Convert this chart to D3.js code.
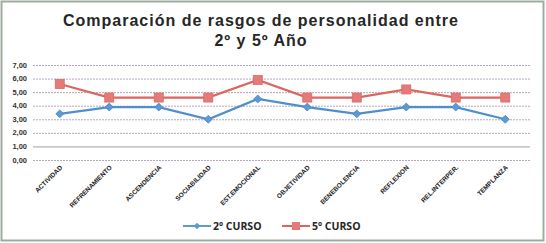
<!DOCTYPE html>
<html>
<head>
<meta charset="utf-8">
<script src="https://cdn.jsdelivr.net/npm/d3@7"></script>
<style>
  body { margin: 0; background: #fff; }
  svg { display: block; }
</style>
</head>
<body>
<svg id="chart"></svg>
<script>
// Rasgos de personalidad — 2º vs 5º curso
const categories = ["ACTIVIDAD", "REFRENAMIENTO", "ASCENDENCIA", "SOCIABILIDAD", "EST.EMOCIONAL",
                    "OBJETIVIDAD", "BENEBOLENCIA", "REFLEXION", "REL.INTERPER.", "TEMPLANZA"];
const curso2 = [3.4, 3.9, 3.9, 3.0, 4.5, 3.9, 3.4, 3.9, 3.9, 3.0];
const curso5 = [5.6, 4.6, 4.6, 4.6, 5.9, 4.6, 4.6, 5.2, 4.6, 4.6];
const yTicks = [0, 1, 2, 3, 4, 5, 6, 7];
const titleLines = ["Comparación de rasgos de personalidad entre", "2º y 5º Año"];

const W = 546, H = 243;
const m = { left: 35, right: 16, top: 65, bottom: 83 };

const svg = d3.select("#chart").attr("width", W).attr("height", H);

// frame
svg.append("rect")
  .attr("x", 1.5).attr("y", 1.5).attr("width", W - 4).attr("height", H - 4)
  .attr("fill", "#fff").attr("stroke", "#9fab9f").attr("stroke-width", 2);

// title, one text per line
svg.append("g").selectAll("text").data(titleLines).join("text")
  .attr("x", 261).attr("y", (d, i) => 26 + i * 19.5)
  .attr("text-anchor", "middle")
  .attr("font-family", "Liberation Sans, Arial, sans-serif").attr("font-weight", "bold")
  .attr("font-size", 16).attr("letter-spacing", 1.0).attr("fill", "#262626")
  .text(d => d);

const x = d3.scaleBand().domain(categories).range([m.left, W - m.right]);
const y = d3.scaleLinear().domain([0, 7]).range([H - m.bottom, m.top]);
const cx = d => x(d) + x.bandwidth() / 2;

// grid
svg.append("g").selectAll("line").data(yTicks).join("line")
  .attr("x1", m.left - 2).attr("x2", W - m.right)
  .attr("y1", d => y(d) + 0.5).attr("y2", d => y(d) + 0.5)
  .attr("stroke", d => d === 1 ? "#97a697" : "#b4a6bc")
  .attr("stroke-width", 1)
  .attr("stroke-dasharray", d => d === 1 ? null : "2,1");

// y axis labels
svg.append("g").selectAll("text").data(yTicks).join("text")
  .attr("x", 27).attr("y", d => y(d) + 2.5)
  .attr("text-anchor", "end")
  .attr("font-family", "Liberation Sans, Arial, sans-serif").attr("font-weight", "bold")
  .attr("font-size", 7.5).attr("fill", "#333")
  .text(d => d3.format(".2f")(d).replace(".", ","));

// x axis labels (rotated)
svg.append("g").selectAll("text").data(categories).join("text")
  .attr("transform", d => `translate(${cx(d) + 3},${y(0) + 8}) rotate(-45)`)
  .attr("text-anchor", "end")
  .attr("font-family", "Liberation Sans, Arial, sans-serif").attr("font-weight", "bold")
  .attr("font-size", 6.5).attr("fill", "#222")
  .text(d => d);

const line = d3.line().x((d, i) => cx(categories[i])).y(d => y(d));

// 2º curso
svg.append("path").datum(curso2)
  .attr("d", line).attr("fill", "none")
  .attr("stroke", "#4f8fcc").attr("stroke-width", 2.2);
const diamond = d3.symbol().type(d3.symbolDiamond2).size(40);
svg.append("g").selectAll("path").data(curso2).join("path")
  .attr("d", diamond)
  .attr("transform", (d, i) => `translate(${cx(categories[i])},${y(d)})`)
  .attr("fill", "#5b9bd5").attr("stroke", "#4a86c0").attr("stroke-width", 0.8);

// 5º curso
svg.append("path").datum(curso5)
  .attr("d", line).attr("fill", "none")
  .attr("stroke", "#dc6660").attr("stroke-width", 2.2);
svg.append("g").selectAll("rect").data(curso5).join("rect")
  .attr("x", (d, i) => cx(categories[i]) - 4.5).attr("y", d => y(d) - 4.5)
  .attr("width", 9).attr("height", 9)
  .attr("fill", "#e57b78").attr("stroke", "#d86a66").attr("stroke-width", 0.8);

// legend
const legend = [
  { name: "2º CURSO", x: 183, color: "#5b9bd5", marker: "diamond" },
  { name: "5º CURSO", x: 282, color: "#dc6660", marker: "square" }
];
const ly = 226;
legend.forEach(l => {
  svg.append("line")
    .attr("x1", l.x).attr("x2", l.x + 28).attr("y1", ly).attr("y2", ly)
    .attr("stroke", l.color).attr("stroke-width", 2);
  if (l.marker === "diamond") {
    svg.append("path").attr("d", d3.symbol().type(d3.symbolDiamond2).size(28))
      .attr("transform", `translate(${l.x + 14},${ly})`)
      .attr("fill", "#5b9bd5");
  } else {
    svg.append("rect").attr("x", l.x + 10).attr("y", ly - 4).attr("width", 8).attr("height", 8)
      .attr("fill", "#e57b78");
  }
  svg.append("text")
    .attr("x", l.x + 30).attr("y", ly + 4)
    .attr("font-family", "Open Sans, sans-serif").attr("font-weight", "bold")
    .attr("font-size", 10.5).attr("fill", "#262626")
    .text(l.name);
});
</script>
</body>
</html>
